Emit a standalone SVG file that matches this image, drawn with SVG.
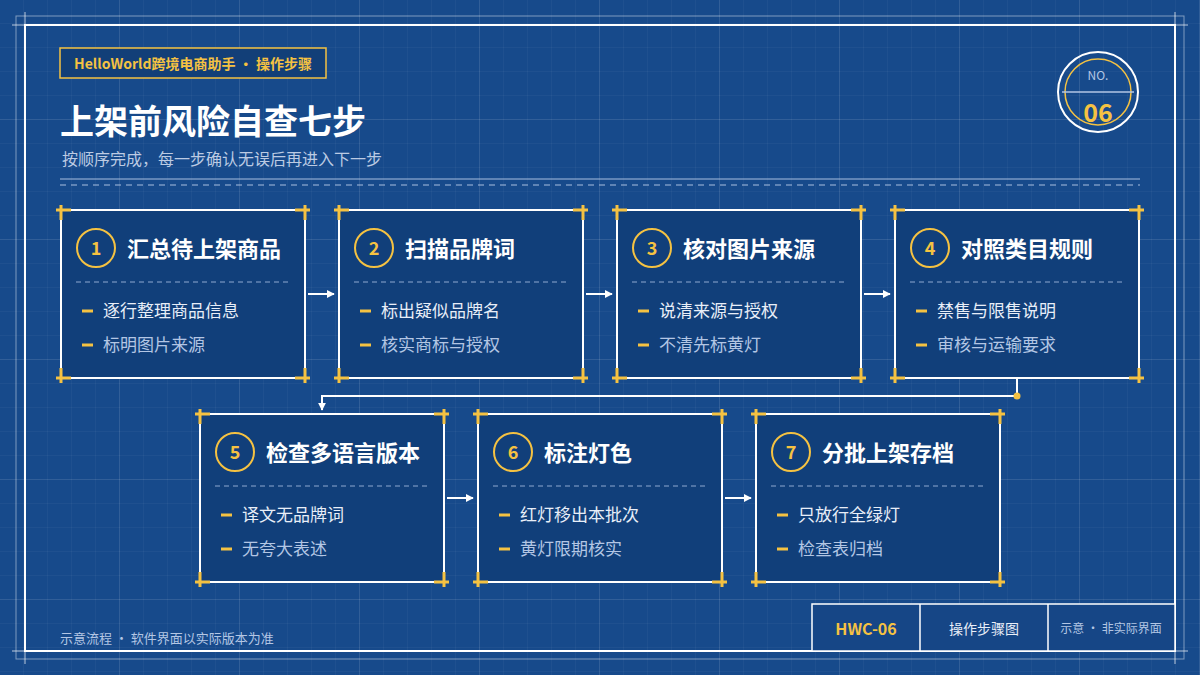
<svg xmlns="http://www.w3.org/2000/svg" width="1200" height="675" viewBox="0 0 1200 675">
<defs>
<pattern id="minor" width="24" height="24" patternUnits="userSpaceOnUse">
<path d="M24,0 V24 M0,24 H24" fill="none" stroke="#ffffff" stroke-opacity="0.07" stroke-width="1"/>
</pattern>
<pattern id="major" width="120" height="120" patternUnits="userSpaceOnUse">
<path d="M120,0 V120 M0,120 H120" fill="none" stroke="#ffffff" stroke-opacity="0.16" stroke-width="1"/>
</pattern>
<marker id="arr" viewBox="0 0 10 10" refX="9" refY="5" markerWidth="8" markerHeight="8" markerUnits="userSpaceOnUse" orient="auto">
<path d="M0,0 L10,5 L0,10 Z" fill="#ffffff"/>
</marker>
<style>
.cjk{font-family:"Noto Sans CJK SC","Noto Sans",sans-serif}
.card rect.box{fill:#113f7a;stroke:#ffffff;stroke-width:2}
.corner{fill:none;stroke:#f5c242;stroke-width:3}
.numc{fill:none;stroke:#f5c242;stroke-width:2}
.num{fill:#f5c242;font-size:18px;font-weight:700;text-anchor:middle}
.ttl{fill:#ffffff;font-size:22px;font-weight:700}
.dash{stroke:#8fa9d0;stroke-width:1;stroke-dasharray:5 4}
.bul{stroke:#f5c242;stroke-width:3}
.t1{fill:#e8eef8;font-size:17px}
.t2{fill:#b3c6e4;font-size:17px}
.conn{fill:none;stroke:#ffffff;stroke-width:2}
</style>
</defs>
<rect width="1200" height="675" fill="#174a8b"/>
<rect width="1200" height="675" fill="url(#minor)"/>
<rect width="1200" height="675" fill="url(#major)"/>
<!-- frames -->
<rect x="16" y="16" width="1168" height="643" fill="none" stroke="#ffffff" stroke-opacity="0.45" stroke-width="1"/>
<rect x="25" y="25" width="1150" height="626" fill="none" stroke="#ffffff" stroke-width="2"/>
<path d="M12,25 H37 M25,12 V37 M1163,25 H1188 M1175,12 V37 M12,651 H37 M25,639 V664 M1163,651 H1188 M1175,639 V664" stroke="#ffffff" stroke-opacity="0.7" stroke-width="1"/>
<!-- header -->
<g id="badge">
<rect x="60" y="48" width="266" height="30" fill="#123f78" stroke="#f5c242" stroke-width="1.5"/>
<text x="193" y="68.500" class="cjk" font-size="14" font-weight="700" fill="#f5c242" text-anchor="middle">HelloWorld跨境电商助手 · 操作步骤</text>
</g>
<text x="60" y="134" class="cjk" font-size="34" font-weight="700" fill="#ffffff">上架前风险自查七步</text>
<text x="62" y="165" class="cjk" font-size="16" fill="#bccbe3">按顺序完成，每一步确认无误后再进入下一步</text>
<line x1="60" y1="179" x2="1140" y2="179" stroke="#a9bedf" stroke-width="1"/>
<line x1="60" y1="185" x2="1140" y2="185" stroke="#a9bedf" stroke-width="1" stroke-dasharray="6 5"/>
<g id="no-badge">
<circle cx="1098" cy="92" r="40" fill="none" stroke="#ffffff" stroke-width="2"/>
<circle cx="1098" cy="92" r="33" fill="none" stroke="#f5c242" stroke-width="1.5"/>
<line x1="1062" y1="92" x2="1134" y2="92" stroke="#b3c6e4" stroke-width="1.5"/>
<text x="1098" y="80" class="cjk" font-size="12" fill="#b3c6e4" text-anchor="middle">NO.</text>
<text x="1098" y="122" class="cjk" font-size="25" font-weight="700" fill="#f5c242" text-anchor="middle">06</text>
</g>
<!-- connectors -->
<g id="connectors">
<line class="conn" x1="308" y1="294" x2="334" y2="294" marker-end="url(#arr)"/>
<line class="conn" x1="586" y1="294" x2="612" y2="294" marker-end="url(#arr)"/>
<line class="conn" x1="864" y1="294" x2="890" y2="294" marker-end="url(#arr)"/>
<path class="conn" d="M1017,379 V396 H322 V410" marker-end="url(#arr)"/>
<circle cx="1017" cy="396" r="3.500" fill="#f5c242"/>
<line class="conn" x1="447" y1="498" x2="473" y2="498" marker-end="url(#arr)"/>
<line class="conn" x1="725" y1="498" x2="751" y2="498" marker-end="url(#arr)"/>
</g>
<!-- cards -->
<g id="step1" class="card cjk" transform="translate(61,210)">
<rect class="box" x="0" y="0" width="244" height="168"/>
<path class="corner" d="M-5,0 H10 M0,-5 V10 M234,0 H249 M244,-5 V10 M-5,168 H10 M0,158 V173 M234,168 H249 M244,158 V173"/>
<circle class="numc" cx="35" cy="38" r="19"/><text class="num" x="35" y="44.500">1</text>
<text class="ttl" x="66" y="47">汇总待上架商品</text>
<line class="dash" x1="15" y1="72" x2="228" y2="72"/>
<line class="bul" x1="21" y1="101" x2="32" y2="101"/><text class="t1" x="42" y="107">逐行整理商品信息</text>
<line class="bul" x1="21" y1="135" x2="32" y2="135"/><text class="t2" x="42" y="141">标明图片来源</text>
</g>
<g id="step2" class="card cjk" transform="translate(339,210)">
<rect class="box" x="0" y="0" width="244" height="168"/>
<path class="corner" d="M-5,0 H10 M0,-5 V10 M234,0 H249 M244,-5 V10 M-5,168 H10 M0,158 V173 M234,168 H249 M244,158 V173"/>
<circle class="numc" cx="35" cy="38" r="19"/><text class="num" x="35" y="44.500">2</text>
<text class="ttl" x="66" y="47">扫描品牌词</text>
<line class="dash" x1="15" y1="72" x2="228" y2="72"/>
<line class="bul" x1="21" y1="101" x2="32" y2="101"/><text class="t1" x="42" y="107">标出疑似品牌名</text>
<line class="bul" x1="21" y1="135" x2="32" y2="135"/><text class="t2" x="42" y="141">核实商标与授权</text>
</g>
<g id="step3" class="card cjk" transform="translate(617,210)">
<rect class="box" x="0" y="0" width="244" height="168"/>
<path class="corner" d="M-5,0 H10 M0,-5 V10 M234,0 H249 M244,-5 V10 M-5,168 H10 M0,158 V173 M234,168 H249 M244,158 V173"/>
<circle class="numc" cx="35" cy="38" r="19"/><text class="num" x="35" y="44.500">3</text>
<text class="ttl" x="66" y="47">核对图片来源</text>
<line class="dash" x1="15" y1="72" x2="228" y2="72"/>
<line class="bul" x1="21" y1="101" x2="32" y2="101"/><text class="t1" x="42" y="107">说清来源与授权</text>
<line class="bul" x1="21" y1="135" x2="32" y2="135"/><text class="t2" x="42" y="141">不清先标黄灯</text>
</g>
<g id="step4" class="card cjk" transform="translate(895,210)">
<rect class="box" x="0" y="0" width="244" height="168"/>
<path class="corner" d="M-5,0 H10 M0,-5 V10 M234,0 H249 M244,-5 V10 M-5,168 H10 M0,158 V173 M234,168 H249 M244,158 V173"/>
<circle class="numc" cx="35" cy="38" r="19"/><text class="num" x="35" y="44.500">4</text>
<text class="ttl" x="66" y="47">对照类目规则</text>
<line class="dash" x1="15" y1="72" x2="228" y2="72"/>
<line class="bul" x1="21" y1="101" x2="32" y2="101"/><text class="t1" x="42" y="107">禁售与限售说明</text>
<line class="bul" x1="21" y1="135" x2="32" y2="135"/><text class="t2" x="42" y="141">审核与运输要求</text>
</g>
<g id="step5" class="card cjk" transform="translate(200,414)">
<rect class="box" x="0" y="0" width="244" height="168"/>
<path class="corner" d="M-5,0 H10 M0,-5 V10 M234,0 H249 M244,-5 V10 M-5,168 H10 M0,158 V173 M234,168 H249 M244,158 V173"/>
<circle class="numc" cx="35" cy="38" r="19"/><text class="num" x="35" y="44.500">5</text>
<text class="ttl" x="66" y="47">检查多语言版本</text>
<line class="dash" x1="15" y1="72" x2="228" y2="72"/>
<line class="bul" x1="21" y1="101" x2="32" y2="101"/><text class="t1" x="42" y="107">译文无品牌词</text>
<line class="bul" x1="21" y1="135" x2="32" y2="135"/><text class="t2" x="42" y="141">无夸大表述</text>
</g>
<g id="step6" class="card cjk" transform="translate(478,414)">
<rect class="box" x="0" y="0" width="244" height="168"/>
<path class="corner" d="M-5,0 H10 M0,-5 V10 M234,0 H249 M244,-5 V10 M-5,168 H10 M0,158 V173 M234,168 H249 M244,158 V173"/>
<circle class="numc" cx="35" cy="38" r="19"/><text class="num" x="35" y="44.500">6</text>
<text class="ttl" x="66" y="47">标注灯色</text>
<line class="dash" x1="15" y1="72" x2="228" y2="72"/>
<line class="bul" x1="21" y1="101" x2="32" y2="101"/><text class="t1" x="42" y="107">红灯移出本批次</text>
<line class="bul" x1="21" y1="135" x2="32" y2="135"/><text class="t2" x="42" y="141">黄灯限期核实</text>
</g>
<g id="step7" class="card cjk" transform="translate(756,414)">
<rect class="box" x="0" y="0" width="244" height="168"/>
<path class="corner" d="M-5,0 H10 M0,-5 V10 M234,0 H249 M244,-5 V10 M-5,168 H10 M0,158 V173 M234,168 H249 M244,158 V173"/>
<circle class="numc" cx="35" cy="38" r="19"/><text class="num" x="35" y="44.500">7</text>
<text class="ttl" x="66" y="47">分批上架存档</text>
<line class="dash" x1="15" y1="72" x2="228" y2="72"/>
<line class="bul" x1="21" y1="101" x2="32" y2="101"/><text class="t1" x="42" y="107">只放行全绿灯</text>
<line class="bul" x1="21" y1="135" x2="32" y2="135"/><text class="t2" x="42" y="141">检查表归档</text>
</g>
<!-- footer -->
<text x="60" y="643" class="cjk" font-size="13" fill="#b3c6e4">示意流程 · 软件界面以实际版本为准</text>
<g id="titleblock" class="cjk">
<rect x="812" y="604" width="363" height="47" fill="#164686" stroke="#ffffff" stroke-width="1.5"/>
<line x1="920" y1="604" x2="920" y2="651" stroke="#ffffff" stroke-width="1.5"/>
<line x1="1048" y1="604" x2="1048" y2="651" stroke="#ffffff" stroke-width="1.5"/>
<text x="866" y="635" font-size="16" font-weight="700" fill="#f5c242" text-anchor="middle">HWC-06</text>
<text x="984" y="634" font-size="14" fill="#e8eef8" text-anchor="middle">操作步骤图</text>
<text x="1111" y="633" font-size="12" fill="#b3c6e4" text-anchor="middle">示意 · 非实际界面</text>
</g>
</svg>
